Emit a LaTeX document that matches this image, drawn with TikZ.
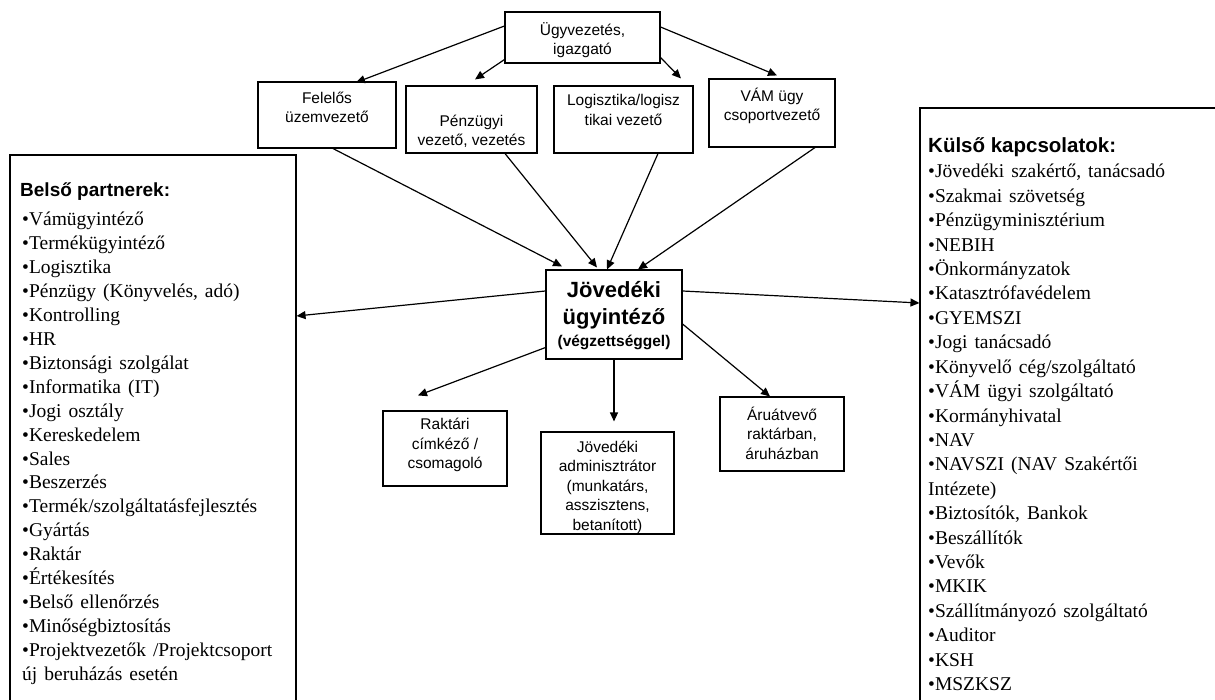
\documentclass[tikz,border=0pt]{standalone}
\usepackage{fontspec}
\setmainfont{Liberation Serif}
\newfontfamily\arialf{Liberation Sans}
\usetikzlibrary{arrows.meta}
\newcommand\myitemfont{\fontsize{19.5}{24}\selectfont\spaceskip=0.36em\relax}
\begin{document}
\begin{tikzpicture}[x=1pt,y=-1pt,
  box/.style={draw=black, line width=1.1pt, inner sep=0pt},
  lbl/.style={font=\arialf\fontsize{15.5}{19.5}\selectfont, align=center, inner sep=0pt},
  arr/.style={line width=1.2pt, -{Triangle[length=9pt,width=8pt]}},
  item/.style={anchor=base west, inner sep=0pt, font=\myitemfont},
  head/.style={anchor=base west, inner sep=0pt, font=\arialf\bfseries\fontsize{20}{24}\selectfont},
  ctext/.style={anchor=base, inner sep=0pt}]
\useasboundingbox (0,0) rectangle (1215,700);

% boxes
\node[box, minimum width=155pt, minimum height=51pt] (top) at (582.5,37.5) {};
\node[box, minimum width=138pt, minimum height=66pt] (fel) at (327,115) {};
\node[box, minimum width=131pt, minimum height=67pt] (pen) at (471.5,119.5) {};
\node[box, minimum width=139pt, minimum height=67pt] (log) at (623.5,119.5) {};
\node[box, minimum width=126pt, minimum height=68pt] (vam) at (772,113) {};
\node[box, minimum width=136pt, minimum height=89pt] (cen) at (614,314.5) {};
\node[box, minimum width=124pt, minimum height=75pt] (rak) at (445,448.5) {};
\node[box, minimum width=133pt, minimum height=102pt] (adm) at (607.5,483) {};
\node[box, minimum width=124pt, minimum height=74pt] (aru) at (782,434) {};
\node[box, minimum width=286pt, minimum height=560pt] (lb) at (153,435) {};
\node[box, minimum width=310pt, minimum height=607pt] (rb) at (1075,411.5) {};

% box texts
\node[lbl] (topt) at (582.5,40) {Ügyvezetés,\\igazgató};
\node[lbl] (felt) at (327,107.5) {Felelős\\üzemvezető};
\node[lbl] (pent) at (471.5,131.5) {Pénzügyi\\vezető, vezetés};
\node[lbl] (logt) at (623.5,110) {Logisztika/logisz\\tikai vezető};
\node[lbl] (vamt) at (772,106) {VÁM ügy\\csoportvezető};
\node[lbl] (rakt) at (445,445) {Raktári\\címkéző /\\csomagoló};
\node[lbl] (admt) at (607.5,487) {Jövedéki\\adminisztrátor\\(munkatárs,\\asszisztens,\\betanított)};
\node[lbl] (arut) at (782,433) {Áruátvevő\\raktárban,\\áruházban};

\node[ctext, font=\arialf\bfseries\fontsize{22}{26}\selectfont] (ct1) at (614,298) {Jövedéki};
\node[ctext, font=\arialf\bfseries\fontsize{22}{26}\selectfont] (ct2) at (614,325) {ügyintéző};
\node[ctext, font=\arialf\bfseries\fontsize{15.5}{19}\selectfont] (ct3) at (614,347) {(végzettséggel)};

% lists
\node[head, font=\arialf\bfseries\fontsize{19}{24}\selectfont] (lh) at (20,197) {Belső partnerek:};
\foreach \t [count=\i from 0] in {{•Vámügyintéző},{•Termékügyintéző},{•Logisztika},{•Pénzügy (Könyvelés, adó)},{•Kontrolling},{•HR},{•Biztonsági szolgálat},{•Informatika (IT)},{•Jogi osztály},{•Kereskedelem},{•Sales},{•Beszerzés},{•Termék/szolgáltatásfejlesztés},{•Gyártás},{•Raktár},{•Értékesítés},{•Belső ellenőrzés},{•Minőségbiztosítás},{•Projektvezetők /Projektcsoport},{új beruházás esetén}}
  \node[item, name=l\i] at (22,226+23.9*\i) {\t};

\node[head, font=\arialf\bfseries\fontsize{20.5}{24}\selectfont] (rh) at (928,153) {Külső kapcsolatok:};
\foreach \t [count=\i from 0] in {{•Jövedéki szakértő, tanácsadó},{•Szakmai szövetség},{•Pénzügyminisztérium},{•NEBIH},{•Önkormányzatok},{•Katasztrófavédelem},{•GYEMSZI},{•Jogi tanácsadó},{•Könyvelő cég/szolgáltató},{•VÁM ügyi szolgáltató},{•Kormányhivatal},{•NAV},{•NAVSZI (NAV Szakértői},{Intézete)},{•Biztosítók, Bankok},{•Beszállítók},{•Vevők},{•MKIK},{•Szállítmányozó szolgáltató},{•Auditor},{•KSH},{•MSZKSZ}}
  \node[item, name=r\i] at (928,178+24.4*\i) {\t};

% arrows from top
\draw[arr] ([yshift=11.5pt]top.west) -- ([shift={(29pt,-1pt)}]fel.north);
\draw[arr] ([yshift=4pt]top.south west) -- ([shift={(3.5pt,6pt)}]pen.north);
\draw[arr] ([yshift=6pt]top.south east) -- ([shift={(57.5pt,7pt)}]log.north);
\draw[arr] ([yshift=10.5pt]top.east) -- ([shift={(5pt,3pt)}]vam.north);
% arrows to central
\draw[arr] ([xshift=6pt]fel.south) -- ([shift={(-52pt,3pt)}]cen.north);
\draw[arr] ([xshift=33.5pt]pen.south) -- ([shift={(-17pt,2pt)}]cen.north);
\draw[arr] ([xshift=34.5pt]log.south) -- ([shift={(-7pt,0pt)}]cen.north);
\draw[arr] ([xshift=43pt]vam.south) -- ([shift={(24pt,0pt)}]cen.north);
% arrows from central
\draw[arr] ([yshift=23.5pt]cen.west) -- ([yshift=119pt]lb.east);
\draw[arr] ([yshift=23.5pt]cen.east) -- ([yshift=108.5pt]rb.west);
\draw[arr] ([yshift=12pt]cen.south west) -- ([shift={(-27pt,15pt)}]rak.north);
\draw[arr] (cen.south) -- ([shift={(6.5pt,10pt)}]adm.north);
\draw[arr] ([yshift=-9.5pt]cen.east) -- ([xshift=-12pt]aru.north);
\end{tikzpicture}
\end{document}
